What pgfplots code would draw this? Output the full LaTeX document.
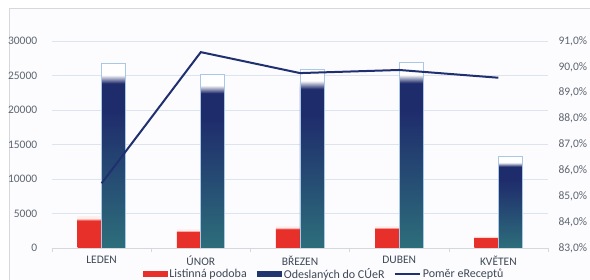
\documentclass[border=0pt]{standalone}
\usepackage{pgfplots}
\pgfplotsset{compat=1.18}
\usepackage{fontspec}
\setmainfont{Carlito}
\definecolor{redbar}{HTML}{E8302A}
\definecolor{redtop}{HTML}{F6B4B0}
\definecolor{bteal}{HTML}{2D6E7B}
\definecolor{bnavy}{HTML}{1F2C6C}
\definecolor{boutline}{HTML}{A9C8E8}
\definecolor{linecol}{HTML}{1F2F70}
\definecolor{gridcol}{HTML}{DCE5EF}
\definecolor{ticktext}{HTML}{5E6670}
\definecolor{cattext}{HTML}{3E4856}
\definecolor{bgcol}{HTML}{FCFCFE}
\definecolor{framecol}{HTML}{D5D8DC}
\pgfdeclareverticalshading{blueshade}{100bp}{color(0bp)=(bteal); color(25bp)=(bteal); color(62bp)=(bnavy); color(69.5bp)=(bnavy); color(71.8bp)=(white); color(100bp)=(white)}
\pgfdeclareverticalshading{redshade}{100bp}{color(0bp)=(redbar); color(25bp)=(redbar); color(69bp)=(redbar); color(71.5bp)=(redtop); color(73bp)=(white!80!redtop); color(100bp)=(white!80!redtop)}
\pgfplotsset{
  redb/.style={ybar, bar width=24pt, bar shift=-12pt, shading=redshade, draw=none, forget plot},
  blueb/.style={ybar, bar width=24pt, bar shift=12pt, shading=blueshade, draw=boutline, line width=0.7pt, forget plot},
}
\begin{document}
\begin{tikzpicture}
\useasboundingbox (0pt,0pt) rectangle (590pt,280pt);
\fill[white] (0pt,0pt) rectangle (590pt,280pt);
\fill[bgcol] (9pt,0pt) rectangle (590pt,271pt);
\draw[framecol, line width=1pt] (9pt,0pt) -- (9pt,271pt) -- (590pt,271pt);
\begin{axis}[
  at={(52pt,32pt)}, anchor=south west,
  scale only axis, width=496pt, height=207pt,
  xmin=-0.5, xmax=4.5, ymin=0, ymax=30000,
  xtick={0,1,2,3,4},
  xticklabels={LEDEN,ÚNOR,BŘEZEN,DUBEN,KVĚTEN},
  minor xtick={-0.5,0.5,1.5,2.5,3.5,4.5},
  major x tick style={draw=none},
  minor x tick style={draw=framecol},
  minor tick length=4pt,
  tick align=outside,
  ytick={0,5000,...,30000},
  scaled y ticks=false,
  /pgf/number format/assume math mode=true,
  yticklabel style={/pgf/number format/1000 sep={}, font=\fontsize{11.5}{12}\selectfont, text=ticktext},
  xticklabel style={font=\fontsize{11.5}{12}\selectfont, text=cattext, yshift=-3pt, inner sep=0.5pt},
  axis x line*=bottom, axis y line*=left,
  y axis line style={draw=none},
  x axis line style={draw=framecol},
  ytick style={draw=none},
  ymajorgrids, grid style={gridcol, line width=0.8pt},
  yticklabel shift=7pt,
]
% Listinna podoba (one bar per plot so each bar is shaded on its own)
\addplot[redb] coordinates {(0,4500)};
\addplot[redb] coordinates {(1,2650)};
\addplot[redb] coordinates {(2,3100)};
\addplot[redb] coordinates {(3,3150)};
\addplot[redb] coordinates {(4,1680)};
% Odeslanych do CUeR
\addplot[blueb] coordinates {(0,26800)};
\addplot[blueb] coordinates {(1,25200)};
\addplot[blueb] coordinates {(2,25900)};
\addplot[blueb] coordinates {(3,26850)};
\addplot[blueb] coordinates {(4,13250)};
\end{axis}
\begin{axis}[
  at={(52pt,32pt)}, anchor=south west,
  scale only axis, width=496pt, height=207pt,
  xmin=-0.5, xmax=4.5, ymin=83, ymax=91,
  axis x line=none, axis y line*=right,
  y axis line style={draw=none},
  ytick={83,84,...,91}, ytick style={draw=none},
  /pgf/number format/assume math mode=true,
  yticklabel={\pgfmathprintnumber[fixed,fixed zerofill,precision=1,use comma]{\tick}\%},
  yticklabel style={font=\fontsize{11.5}{12}\selectfont, text=ticktext},
  yticklabel shift=7pt,
  legend columns=3,
  legend style={at={(axis description cs:0.1835,0)}, anchor=west, yshift=-26pt, draw=none, fill=none, inner sep=0pt, outer sep=0pt, font=\fontsize{12}{12}\selectfont, text=cattext, nodes={inner sep=0pt},
    /tikz/every odd column/.append style={column sep=2pt},
    /tikz/column 2/.append style={column sep=13pt},
    /tikz/column 4/.append style={column sep=14pt}},
]
\addlegendimage{legend image code/.code={\fill[redbar] (0pt,-2.5pt) rectangle (24pt,2.5pt);}}
\addlegendentry{\makebox[75pt][l]{Listinná podoba}}
\addlegendimage{legend image code/.code={\fill[bnavy!85!bteal] (0pt,-2.5pt) rectangle (24pt,2.5pt);}}
\addlegendentry{\makebox[96pt][l]{Odeslaných do CÚeR}}
\addplot[linecol, line width=2pt, mark=none, legend image code/.code={\draw[linecol, line width=2pt] (0pt,0pt) -- (25pt,0pt);}] coordinates {(0,85.5) (1,90.57) (2,89.76) (3,89.88) (4,89.58)};
\addlegendentry{\makebox[77pt][l]{Poměr eReceptů}}
\end{axis}
\end{tikzpicture}
\end{document}
